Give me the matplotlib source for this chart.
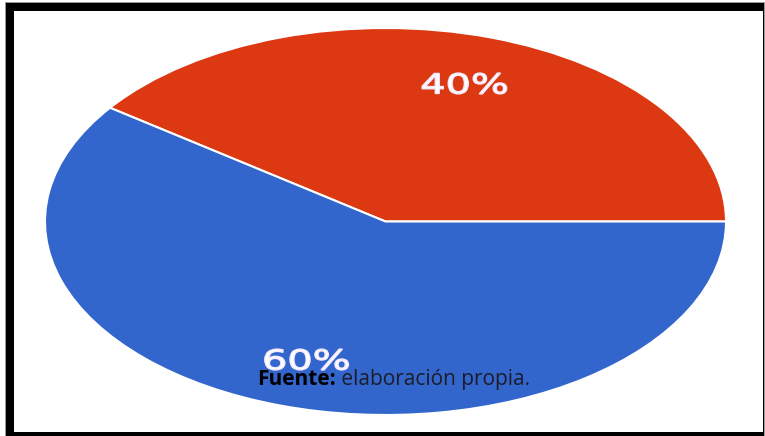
import matplotlib
matplotlib.use('Agg')
import matplotlib.pyplot as plt
from matplotlib.patches import Rectangle, PathPatch
from matplotlib.textpath import TextPath
from matplotlib.font_manager import FontProperties
from matplotlib.transforms import Affine2D, IdentityTransform

# Data
labels = ['Sí', 'No']
values = [40, 60]
colors = ['#DC3912', '#3366CC']

W, H = 765, 436
fig = plt.figure(figsize=(W / 100, H / 100), dpi=100)
fig.patch.set_facecolor('white')

# frame around the picture (figure pixel coords -> fractions)
def fr(x0, y0, x1, y1):
    return (x0 / W, 1 - y1 / H), (x1 - x0) / W, (y1 - y0) / H

xy, w, h = fr(5, 2, 765, 436)
fig.add_artist(Rectangle(xy, w, h, transform=fig.transFigure, fc='#999999', ec='none', zorder=0))
xy, w, h = fr(6, 3, 764, 436)
fig.add_artist(Rectangle(xy, w, h, transform=fig.transFigure, fc='black', ec='none', zorder=0))
xy, w, h = fr(14, 11, 763, 432)
fig.add_artist(Rectangle(xy, w, h, transform=fig.transFigure, fc='white', ec='none', zorder=0))

# pie stretched into an ellipse: centre (385.5, 221.5) px, radii 340.5 x 193.5 px
cx, cy, rx, ry = 385.5, 221.5, 340.5, 193.5
ax = fig.add_axes([0, 0, 1, 1])
ax.patch.set_alpha(0)
wedges, texts, autotexts = ax.pie(
    values, colors=colors, startangle=0, counterclock=True,
    autopct='%d%%', pctdistance=0.75,
    wedgeprops=dict(edgecolor='white', linewidth=1.5))
ax.set_aspect('auto')
ax.set_xlim(-cx / rx, (W - cx) / rx)
ax.set_ylim(-(H - cy) / ry, cy / ry)
ax.axis('off')

# percent labels: wide white lettering, drawn as stretched text paths
fig.canvas.draw()
prop = FontProperties(family='DejaVu Sans')
for t in autotexts:
    px, py = ax.transData.transform(t.get_position())
    tp = TextPath((0, 0), t.get_text(), size=27.5, prop=prop)
    bb = tp.get_extents()
    tr = (Affine2D().translate(-(bb.x0 + bb.x1) / 2, -(bb.y0 + bb.y1) / 2)
          .scale(1.45, 1.0).translate(px, py))
    fig.add_artist(PathPatch(tp, transform=tr + IdentityTransform(),
                             fc='white', ec='#f4e9ff', lw=1.0, zorder=5))
    t.set_visible(False)

# source note
t1 = fig.text(257 / W, 1 - 390 / H, 'Fuente:', family='Open Sans', weight='bold',
              fontsize=15, color='black', ha='left', va='bottom', zorder=6)
fig.canvas.draw()
ax.annotate(' elaboración propia.', xy=(1, 0), xycoords=t1, family='Open Sans',
            fontsize=15, color='#1c1c2a', ha='left', va='bottom', zorder=6,
            annotation_clip=False)

fig.savefig('out.png', dpi=100)
